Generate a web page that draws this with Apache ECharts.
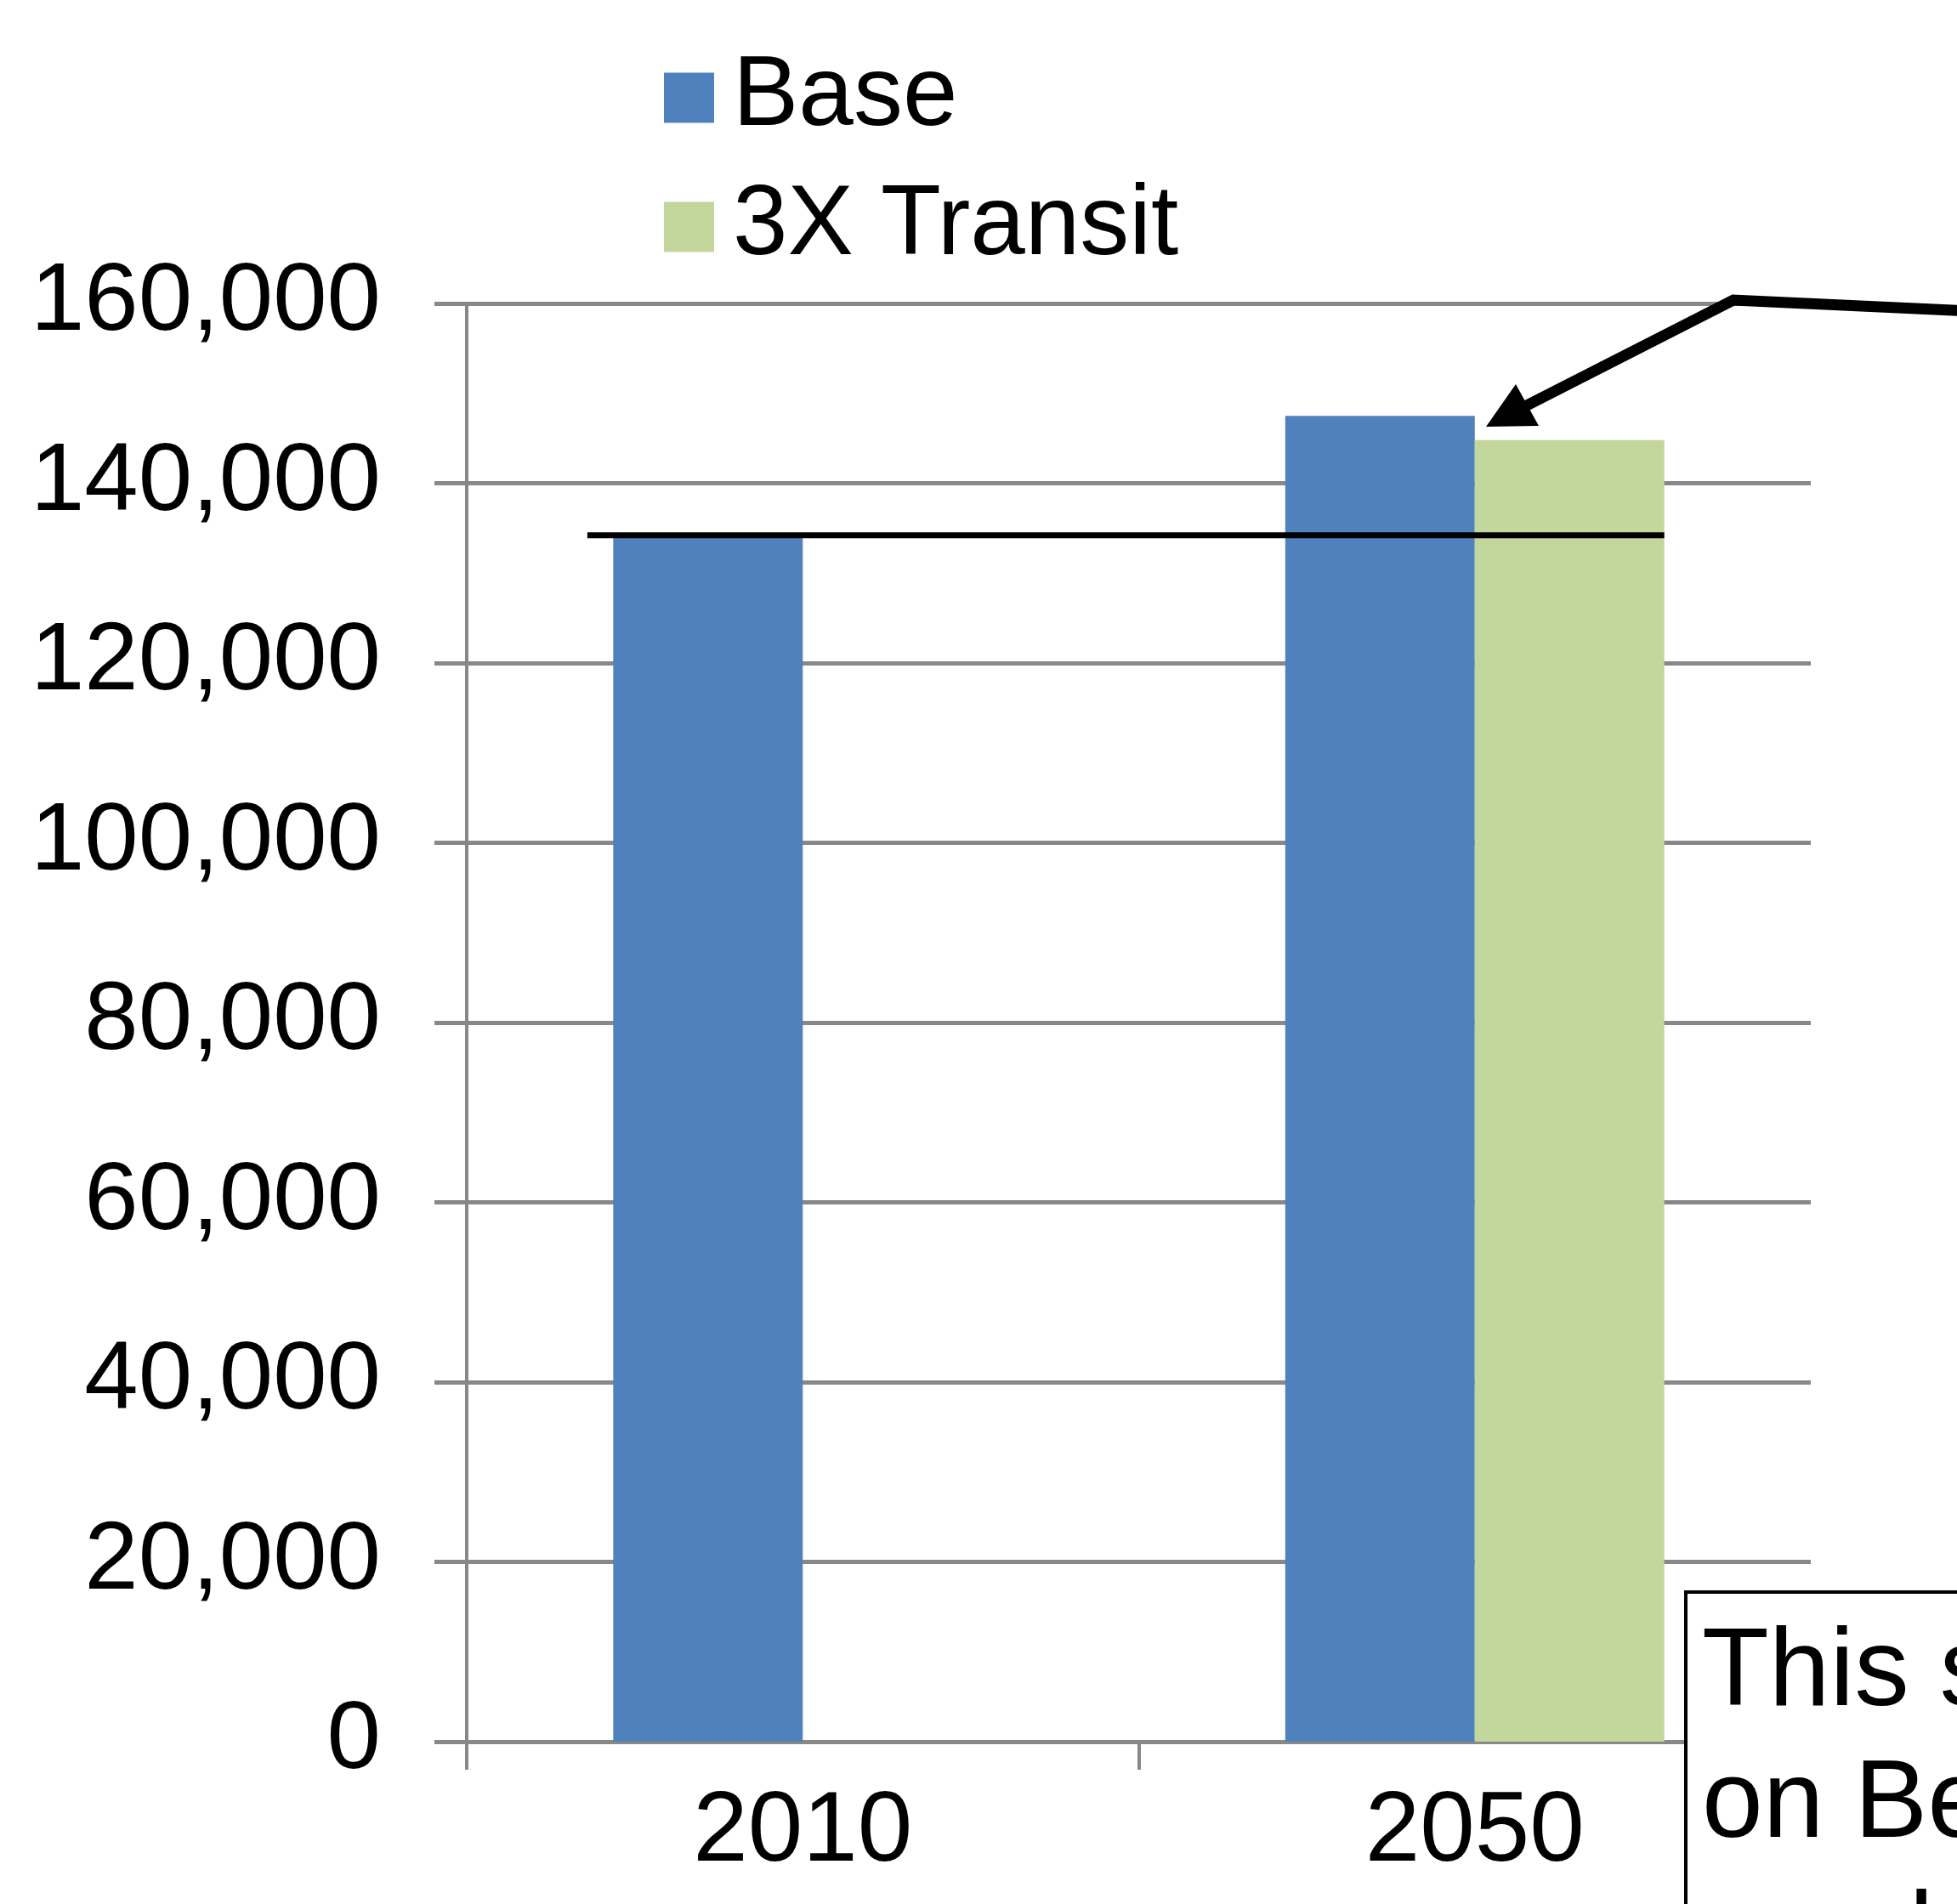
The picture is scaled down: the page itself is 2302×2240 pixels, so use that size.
<!DOCTYPE html>
<html>
<head>
<meta charset="utf-8">
<script src="https://cdn.jsdelivr.net/npm/echarts@6/dist/echarts.min.js"></script>
<style>
html,body{margin:0;padding:0;background:#fff;}
#chart{width:2302px;height:2240px;}
</style>
</head>
<body>
<div id="chart"></div>
<script>
var categories = ['2010', '2050'];
var seriesNames = ['Base', '3X Transit'];
var baseValues = [134200, 147500];
var transitValues = [null, 144800];
var yTicks = [0, 20000, 40000, 60000, 80000, 100000, 120000, 140000, 160000];
var noteLines = ['This scenario', 'on Better', 'use less land'];

var FONT = '"Liberation Sans", Arial, sans-serif';
var GRAY = '#888888';

var chart = echarts.init(document.getElementById('chart'), null, {renderer: 'canvas'});

var option = {
  backgroundColor: '#ffffff',
  animation: false,
  grid: {
    left: 549, top: 357, right: 172, bottom: 191,
    containLabel: false,
    outerBoundsMode: 'none'
  },
  legend: {
    data: seriesNames,
    orient: 'vertical',
    left: 781,
    top: 57,
    padding: 0,
    itemWidth: 59,
    itemHeight: 59,
    itemGap: 36,
    icon: 'rect',
    textStyle: {fontSize: 116, fontFamily: FONT, color: '#000', padding: [0, 0, 0, 17]}
  },
  xAxis: {
    type: 'category',
    data: categories,
    axisLine: {show: true, lineStyle: {color: GRAY, width: 5}},
    axisTick: {show: true, length: 33, lineStyle: {color: GRAY, width: 4}},
    axisLabel: {fontSize: 116, fontFamily: FONT, color: '#000', margin: 50},
    splitLine: {show: false}
  },
  yAxis: {
    type: 'value',
    min: yTicks[0],
    max: yTicks[yTicks.length - 1],
    interval: yTicks[1] - yTicks[0],
    axisLine: {show: true, lineStyle: {color: GRAY, width: 4}},
    axisTick: {show: true, length: 38, lineStyle: {color: GRAY, width: 5}},
    axisLabel: {
      fontSize: 114, fontFamily: FONT, color: '#000', margin: 101,
      formatter: function (v) { return v.toLocaleString('en-US'); }
    },
    splitLine: {show: true, lineStyle: {color: GRAY, width: 5}}
  },
  series: [
    {
      name: seriesNames[0], type: 'bar', data: baseValues,
      barWidth: '28.2%', barGap: '0%',
      itemStyle: {color: '#4F81BD'}, z: 2
    },
    {
      name: seriesNames[1], type: 'bar', data: transitValues,
      barWidth: '28.2%', barGap: '0%',
      itemStyle: {color: '#C3D69B'}, z: 2
    },
    {
      name: 'ref', type: 'custom', z: 5,
      data: [[0, baseValues[0]]],
      renderItem: function (params, api) {
        var v = api.value(1);
        var band = api.size([1, 0])[0];
        var p0 = api.coord([0, v]);
        var p1 = api.coord([1, v]);
        return {
          type: 'line',
          shape: {x1: p0[0] - band * 0.3205, y1: p0[1], x2: p1[0] + band * 0.282, y2: p1[1]},
          style: {stroke: '#000', lineWidth: 7}
        };
      },
      tooltip: {show: false}
    }
  ],
  graphic: [
    {
      type: 'polyline', z: 100,
      shape: {points: [[2320, 366], [2039, 353], [1790, 480]]},
      style: {stroke: '#000', lineWidth: 13, fill: null, lineJoin: 'miter'}
    },
    {
      type: 'polygon', z: 100,
      shape: {points: [[1748, 502], [1783, 452], [1810, 501]]},
      style: {fill: '#000'}
    },
    {
      type: 'rect', z: 100,
      shape: {x: 1983, y: 1873, width: 600, height: 600},
      style: {fill: '#fff', stroke: '#000', lineWidth: 4}
    },
    {
      type: 'text', z: 101,
      x: 2002, y: 1893,
      style: {
        text: noteLines.join('\n'),
        fontSize: 129, fontFamily: FONT, fill: '#000',
        lineHeight: 155, align: 'left', verticalAlign: 'top'
      }
    }
  ]
};

chart.setOption(option);
</script>
</body>
</html>
